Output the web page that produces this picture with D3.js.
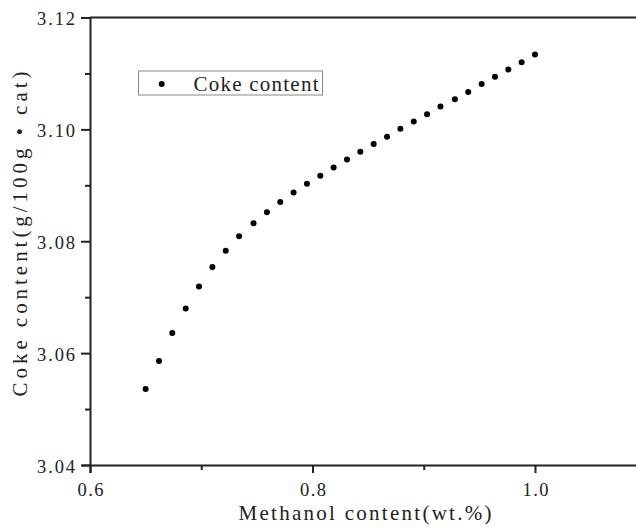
<!DOCTYPE html>
<html>
<head>
<meta charset="utf-8">
<script src="https://cdn.jsdelivr.net/npm/d3@7"></script>
<style>
  html, body { margin: 0; padding: 0; background: #fff; }
  svg { display: block; }
  text { font-family: "Liberation Serif", "DejaVu Serif", serif; fill: #222; }
</style>
</head>
<body>
<svg id="chart" width="636" height="528"></svg>
<script>
// Data
const methanol = [0.650, 0.662, 0.674, 0.686, 0.698, 0.710, 0.722, 0.734, 0.747, 0.759,
                  0.771, 0.783, 0.795, 0.807, 0.819, 0.831, 0.843, 0.855, 0.867, 0.879,
                  0.891, 0.903, 0.915, 0.928, 0.940, 0.952, 0.964, 0.976, 0.988, 1.000];
const coke = [3.0536, 3.0586, 3.0636, 3.0680, 3.0719, 3.0754, 3.0783, 3.0809, 3.0832, 3.0852,
              3.0870, 3.0887, 3.0903, 3.0917, 3.0932, 3.0946, 3.0960, 3.0974, 3.0987, 3.1001,
              3.1014, 3.1027, 3.1041, 3.1054, 3.1067, 3.1081, 3.1094, 3.1107, 3.1120, 3.1134];
const xMajorTicks = [0.6, 0.8, 1.0];
const xMinorTicks = [0.7, 0.9];
const yMajorTicks = [3.04, 3.06, 3.08, 3.10, 3.12];
const yMinorTicks = [3.05, 3.07, 3.09, 3.11];
const seriesName = "Coke content";
const xTitle = "Methanol content(wt.%)";
const yTitle = "Coke content(g/100g • cat)";

const svg = d3.select("#chart");
const mLeft = 90, mTop = 17.5, mBottom = 465;
const x = d3.scaleLinear().domain([0.6, 1.1]).range([mLeft, mLeft + 556.25]);
const y = d3.scaleLinear().domain([3.04, 3.12]).range([mBottom, mTop]);

// top frame line
svg.append("line")
  .attr("x1", mLeft).attr("x2", 636).attr("y1", mTop).attr("y2", mTop)
  .attr("stroke", "#222").attr("stroke-width", 2);

// minor ticks
svg.append("g").attr("transform", `translate(0,${mBottom})`)
  .call(d3.axisBottom(x).tickValues(xMinorTicks).tickSize(5).tickFormat(""))
  .call(g => g.select(".domain").remove())
  .call(g => g.selectAll("line").attr("stroke", "#222").attr("stroke-width", 2));
svg.append("g").attr("transform", `translate(${mLeft},0)`)
  .call(d3.axisLeft(y).tickValues(yMinorTicks).tickSize(5).tickFormat(""))
  .call(g => g.select(".domain").remove())
  .call(g => g.selectAll("line").attr("stroke", "#222").attr("stroke-width", 2));

// major x axis
const gx = svg.append("g").attr("transform", `translate(0,${mBottom})`)
  .call(d3.axisBottom(x).tickValues(xMajorTicks).tickSize(8).tickSizeOuter(0)
        .tickFormat(d3.format(".1f")));
gx.select(".domain").attr("d", `M${mLeft - 8},0.5H636`).attr("stroke", "#222").attr("stroke-width", 2);
gx.selectAll(".tick line").attr("stroke", "#222").attr("stroke-width", 2);
gx.selectAll(".tick text")
  .attr("y", 31).attr("dy", 0)
  .style("font-family", "'Liberation Serif', serif").style("font-size", "18.5px").attr("fill", "#333")
  .attr("textLength", 26).attr("lengthAdjust", "spacing");

// major y axis
const gy = svg.append("g").attr("transform", `translate(${mLeft},0)`)
  .call(d3.axisLeft(y).tickValues(yMajorTicks).tickSize(9).tickSizeOuter(0)
        .tickFormat(d3.format(".2f")));
gy.select(".domain").attr("d", `M0.5,${mTop}V${mBottom + 8}`).attr("stroke", "#222").attr("stroke-width", 2);
gy.selectAll(".tick line").attr("stroke", "#222").attr("stroke-width", 2);
gy.selectAll(".tick text")
  .attr("x", -15).attr("dy", "0.38em")
  .style("font-family", "'Liberation Serif', serif").style("font-size", "18.5px").attr("fill", "#333")
  .attr("textLength", 38).attr("lengthAdjust", "spacing");

// points
svg.append("g").selectAll("circle")
  .data(methanol.map((m, i) => ({ m, c: coke[i] })))
  .join("circle")
  .attr("cx", d => x(d.m)).attr("cy", d => y(d.c))
  .attr("r", 3).attr("fill", "#000");

// legend
const lg = svg.append("g");
lg.append("rect").attr("x", 138.5).attr("y", 71).attr("width", 184).attr("height", 24)
  .attr("fill", "#fff").attr("stroke", "#888").attr("stroke-width", 1);
lg.append("circle").attr("cx", 161.7).attr("cy", 84).attr("r", 3).attr("fill", "#000");
lg.append("text").attr("x", 193.5).attr("y", 91).style("font-size", "21px")
  .attr("textLength", 125).attr("lengthAdjust", "spacing").text(seriesName);

// axis titles
svg.append("text").attr("x", 365).attr("y", 520).attr("text-anchor", "middle")
  .style("font-size", "21px").attr("textLength", 253).attr("lengthAdjust", "spacing")
  .text(xTitle);
svg.append("text").attr("transform", "translate(27,234) rotate(-90)").attr("text-anchor", "middle")
  .style("font-size", "21px").attr("textLength", 325).attr("lengthAdjust", "spacing")
  .text(yTitle);
</script>
</body>
</html>
